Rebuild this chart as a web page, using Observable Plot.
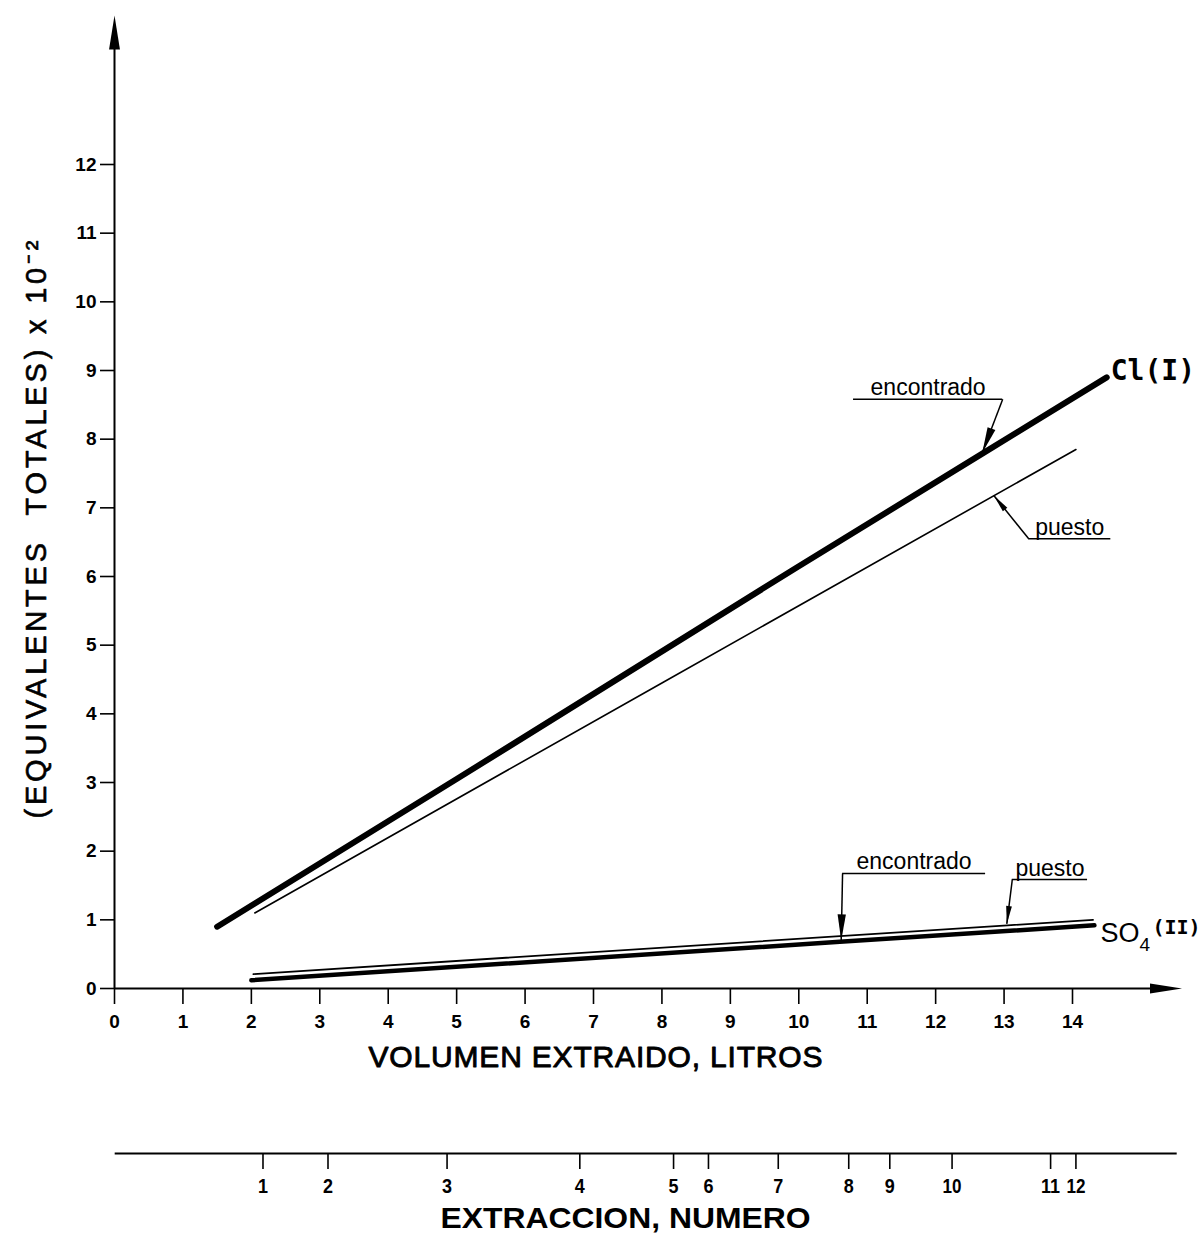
<!DOCTYPE html>
<html>
<head>
<meta charset="utf-8">
<script src="https://cdn.jsdelivr.net/npm/d3@7"></script>
<script src="https://cdn.jsdelivr.net/npm/@observablehq/plot@0.6"></script>
<style>
  html, body { margin: 0; padding: 0; background: #fff; }
</style>
</head>
<body>
<div id="chart"></div>
<script>
// ---------- data ----------
// Cl(I): total equivalents x 10^-2 vs. volume extracted (litres)
const clFoundX = [1.5, 5, 10, 12.7, 14.5];
const clFoundY = [0.9, 3.05, 6.15, 7.8, 8.9];
const clPutX = [2.05, 8, 14.05];
const clPutY = [1.1, 4.45, 7.85];
// SO4(II)
const so4FoundX = [2.0, 10.6, 14.32];
const so4FoundY = [0.12, 0.68, 0.92];
const so4PutX = [2.03, 13.05, 14.3];
const so4PutY = [0.21, 0.92, 1.0];

const xTicks = [0, 1, 2, 3, 4, 5, 6, 7, 8, 9, 10, 11, 12, 13, 14];
const yTicks = [0, 1, 2, 3, 4, 5, 6, 7, 8, 9, 10, 11, 12];

// secondary scale: extraction number placed at its cumulative volume (litres)
const extractionNumbers = [1, 2, 3, 4, 5, 6, 7, 8, 9, 10, 11, 12];
const extractionVolumes = [2.17, 3.12, 4.86, 6.80, 8.17, 8.68, 9.70, 10.73, 11.33, 12.24, 13.68, 14.05];

// call-out annotations (data units): label, underline span, leader start, arrow tip
const calloutLabels = ["encontrado", "puesto", "encontrado", "puesto"];
const calloutLineX1 = [10.80, 13.36, 10.64, 13.12];
const calloutLineX2 = [12.98, 14.56, 12.73, 14.22];
const calloutLineY  = [8.58, 6.55, 1.675, 1.587];
const calloutFromX  = [12.98, 13.36, 10.64, 13.12];
const calloutTipX   = [12.68, 12.85, 10.62, 13.04];
const calloutTipY   = [7.80, 7.18, 0.70, 0.94];

const xTitle = "VOLUMEN EXTRAIDO, LITROS";
const yTitle = "(EQUIVALENTES\u00a0\u00a0TOTALES)\u00a0x\u00a010\u207b\u00b2";
const extTitle = "EXTRACCION, NUMERO";

// ---------- layout ----------
const W = 1204, H = 1235;
const ML = 114, MR = 132, MT = 164, MB = 247;
const kx = (W - ML - MR) / 14;   // px per litre
const ky = (H - MT - MB) / 12;   // px per unit
const xArrowTip = 15.6;
const yArrowTip = (H - MB - 15) / ky;
const extY = -165 / ky;          // secondary axis sits 165px below the main x axis

const zip = (xs, ys) => xs.map((x, i) => ({x, y: ys[i]}));
const clFound = zip(clFoundX, clFoundY);
const clPut = zip(clPutX, clPutY);
const so4Found = zip(so4FoundX, so4FoundY);
const so4Put = zip(so4PutX, so4PutY);
const extractions = extractionNumbers.map((n, i) => ({n, v: extractionVolumes[i]}));
const callouts = calloutLabels.map((label, i) => {
  const pdx = (calloutTipX[i] - calloutFromX[i]) * kx;
  const pdy = -(calloutTipY[i] - calloutLineY[i]) * ky;
  return {
    label,
    x1: calloutLineX1[i], x2: calloutLineX2[i], y: calloutLineY[i],
    fx: calloutFromX[i], tx: calloutTipX[i], ty: calloutTipY[i],
    angle: Math.atan2(pdx, -pdy) * 180 / Math.PI
  };
});

// narrow filled arrowhead, tip at the anchor point, pointing "up" before rotation
const head = {
  draw(ctx, size) {
    const L = Math.sqrt(size / Math.PI);
    const w = L * 0.16;
    ctx.moveTo(0, 0);
    ctx.lineTo(w, L);
    ctx.lineTo(-w, L);
    ctx.closePath();
  }
};

const sans = "'Liberation Sans', Arial, Helvetica, sans-serif";
const mono = "'DejaVu Sans Mono', 'Liberation Mono', monospace";

const lastFound = {x: so4FoundX[so4FoundX.length - 1], y: so4FoundY[so4FoundY.length - 1]};

const chart = Plot.plot({
  width: W,
  height: H,
  marginLeft: ML,
  marginRight: MR,
  marginTop: MT,
  marginBottom: MB,
  x: {domain: [0, 14]},
  y: {domain: [0, 12]},
  style: {fontFamily: sans, fontSize: "18px", background: "#fff", color: "#000", overflow: "visible"},
  marks: [
    // main axes
    Plot.axisX({ticks: xTicks, tickSize: 16, tickPadding: 10, label: null, fontWeight: "bold", fontSize: 19, strokeWidth: 1.6}),
    Plot.axisY({ticks: yTicks, tickSize: 14, tickPadding: 4, label: null, fontWeight: "bold", fontSize: 19, strokeWidth: 1.6}),
    Plot.ruleY([0], {x1: () => 0, x2: () => xArrowTip - 0.2, stroke: "#000", strokeWidth: 2}),
    Plot.ruleX([0], {y1: () => 0, y2: () => yArrowTip - 0.2, stroke: "#000", strokeWidth: 2}),
    Plot.dot([{x: xArrowTip, y: 0}], {x: "x", y: "y", symbol: head, r: 32, rotate: 90, fill: "#000", stroke: "none"}),
    Plot.dot([{x: 0, y: yArrowTip}], {x: "x", y: "y", symbol: head, r: 34, rotate: 0, fill: "#000", stroke: "none"}),

    // series
    Plot.line(clPut, {x: "x", y: "y", stroke: "#000", strokeWidth: 1.6}),
    Plot.line(clFound, {x: "x", y: "y", stroke: "#000", strokeWidth: 6, strokeLinecap: "round"}),
    Plot.line(so4Put, {x: "x", y: "y", stroke: "#000", strokeWidth: 1.8}),
    Plot.line(so4Found, {x: "x", y: "y", stroke: "#000", strokeWidth: 4.5}),

    // call-outs
    Plot.ruleY(callouts, {y: "y", x1: "x1", x2: "x2", stroke: "#000", strokeWidth: 1.5}),
    Plot.link(callouts, {x1: "fx", y1: "y", x2: "tx", y2: "ty", stroke: "#000", strokeWidth: 1.5}),
    Plot.dot(callouts.filter(d => d.label === "encontrado"), {x: "tx", y: "ty", symbol: head, r: 26, rotate: "angle", fill: "#000", stroke: "none"}),
    Plot.dot(callouts.filter(d => d.label === "puesto"), {x: "tx", y: "ty", symbol: head, r: 18, rotate: "angle", fill: "#000", stroke: "none"}),
    Plot.text(callouts, {x: d => (d.x1 + d.x2) / 2, y: "y", text: "label", lineAnchor: "bottom", dy: -4, fontSize: 23, fontFamily: sans, fill: "#000"}),

    // series labels
    Plot.text([{x: clFoundX[clFoundX.length - 1], y: clFoundY[clFoundY.length - 1], t: "Cl(I)"}],
      {x: "x", y: "y", text: "t", textAnchor: "start", lineAnchor: "middle", dx: 4, dy: -6, fontFamily: mono, fontWeight: "bold", fontSize: 28, fill: "#000"}),
    Plot.text([{...lastFound, t: "SO"}],
      {x: "x", y: "y", text: "t", textAnchor: "start", lineAnchor: "middle", dx: 6, dy: 8, fontFamily: sans, fontSize: 27, fill: "#000"}),
    Plot.text([{...lastFound, t: "4"}],
      {x: "x", y: "y", text: "t", textAnchor: "start", lineAnchor: "middle", dx: 45, dy: 20, fontFamily: sans, fontSize: 19, fill: "#000"}),
    Plot.text([{...lastFound, t: "(II)"}],
      {x: "x", y: "y", text: "t", textAnchor: "start", lineAnchor: "middle", dx: 58, dy: 2, fontFamily: mono, fontWeight: "bold", fontSize: 20, fill: "#000"}),

    // axis titles
    Plot.text([xTitle], {frameAnchor: "bottom", text: d => d, textAnchor: "middle", lineAnchor: "middle", dx: 2, dy: 69,
      fontSize: 30, fontFamily: sans, fill: "#000", stroke: "#000", strokeWidth: 0.9}),
    Plot.text([yTitle], {frameAnchor: "left", text: d => d, rotate: -90, textAnchor: "start", lineAnchor: "middle", dx: -78, dy: 242,
      fontSize: 29, fontFamily: sans, fill: "#000", stroke: "#000", strokeWidth: 0.6}),

    // secondary axis: extraction number
    Plot.ruleY([extY], {x1: () => 0.01, x2: () => 15.53, stroke: "#000", strokeWidth: 2}),
    Plot.ruleX(extractions, {x: "v", y1: () => extY, y2: () => extY - 16 / ky, stroke: "#000", strokeWidth: 1.6}),
    Plot.text(extractions, {x: "v", y: () => extY, text: d => String(d.n), dy: 33, lineAnchor: "middle",
      fontSize: 20, fontWeight: "bold", fontFamily: sans, fill: "#000"}),
    Plot.text([extTitle], {frameAnchor: "bottom", text: d => d, textAnchor: "middle", lineAnchor: "middle", dx: 32, dy: 230,
      fontSize: 30, fontWeight: "bold", fontFamily: sans, fill: "#000"})
  ]
});

document.getElementById("chart").appendChild(chart);

// stretch / condense the hand-lettered texts to the proportions seen in the reference
const extLabelSet = new Set(extractionNumbers.map(String));
d3.select(chart).selectAll("text").each(function () {
  const t = this.textContent;
  if (t === xTitle) { this.setAttribute("textLength", 454); this.setAttribute("lengthAdjust", "spacing"); }
  if (t === yTitle) { this.setAttribute("textLength", 578); this.setAttribute("lengthAdjust", "spacing"); }
  if (t === extTitle) { this.setAttribute("textLength", 370); this.setAttribute("lengthAdjust", "spacingAndGlyphs"); }
  if (extLabelSet.has(t)) {
    const r = this.getBoundingClientRect();
    if (r.top > 1160) {
      this.setAttribute("textLength", t.length === 1 ? 10 : 19);
      this.setAttribute("lengthAdjust", "spacingAndGlyphs");
    }
  }
});
</script>
</body>
</html>
